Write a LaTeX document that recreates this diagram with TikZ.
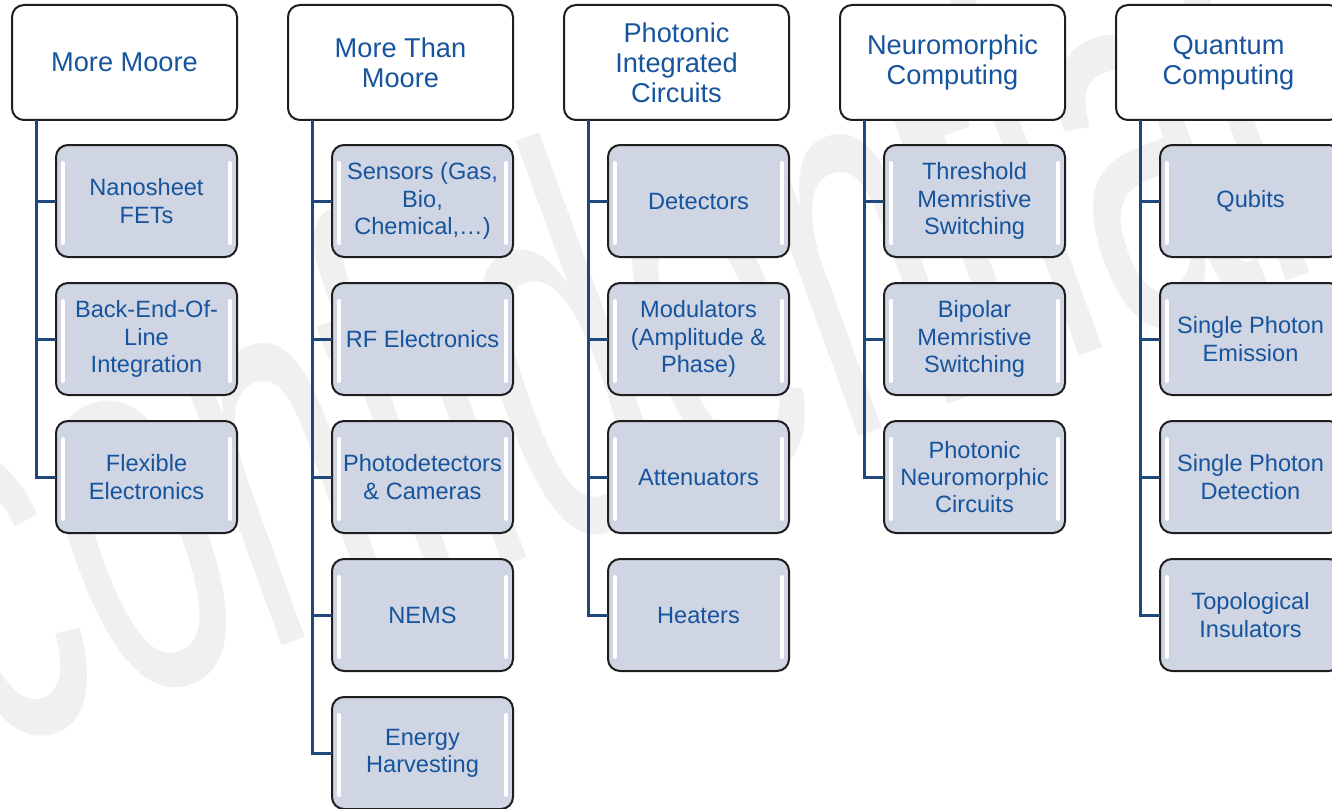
\documentclass[tikz,border=0pt]{standalone}
\usepackage{fontspec}
\setmainfont{Liberation Sans}
\usetikzlibrary{positioning}
\definecolor{txtblue}{RGB}{22,84,158}
\definecolor{linkblue}{RGB}{31,73,125}
\definecolor{leafgray}{RGB}{207,213,226}
\definecolor{boxline}{RGB}{30,30,30}

\tikzset{
  head/.style={draw=boxline, line width=1pt, rounded corners=6pt, fill=white,
    minimum width=112.5pt, minimum height=57.5pt, align=center, inner sep=1pt,
    outer sep=0pt, text=txtblue, font=\fontsize{13.6}{15}\selectfont},
  leaf/.style={draw=boxline, line width=1pt, rounded corners=6pt, fill=leafgray,
    minimum width=90.5pt, minimum height=56pt, align=center, inner sep=1pt,
    outer sep=0pt, text=txtblue, font=\fontsize{11.8}{13.6}\selectfont,
    path picture={
      \draw[white, line width=2pt, line cap=round]
        ([xshift=3.5pt,yshift=-9pt]path picture bounding box.north west) --
        ([xshift=3.5pt,yshift=7pt]path picture bounding box.south west)
        ([xshift=-3.5pt,yshift=-9pt]path picture bounding box.north east) --
        ([xshift=-3.5pt,yshift=7pt]path picture bounding box.south east);
    }},
  link/.style={draw=linkblue, line width=1.5pt},
  stamp/.style={text=black!6, font=\fontsize{272}{272}\selectfont, inner sep=0pt}
}

\begin{document}
\begin{tikzpicture}[x=0.5pt,y=0.5pt]
\useasboundingbox (0,0) rectangle (1332,-808);
\clip (0,0) rectangle (1332,-808);

% watermark behind everything
\node[stamp, rotate=20, xscale=0.52, anchor=base west] (wm) at (-17,-755) {confidential};

% column heads
\foreach \n/\x/\t in {h1/124.5/More Moore, h2/400.5/{More Than\\Moore},
    h3/676.5/{Photonic\\Integrated\\Circuits}, h4/952.5/{Neuromorphic\\Computing},
    h5/1228.5/{Quantum\\Computing}}
  \node[head] (\n) at (\x,-62.5) {\t};

% More Moore
\node[leaf, below left=12.5pt and 0pt of h1.south east] (c11) {Nanosheet\\FETs};
\node[leaf, below=13pt of c11] (c12) {Back-End-Of-\\Line\\Integration};
\node[leaf, below=13pt of c12] (c13) {Flexible\\Electronics};

% More Than Moore
\node[leaf, below left=12.5pt and 0pt of h2.south east] (c21) {Sensors (Gas,\\Bio,\\Chemical,…)};
\node[leaf, below=13pt of c21] (c22) {RF Electronics};
\node[leaf, below=13pt of c22] (c23) {Photodetectors\\\& Cameras};
\node[leaf, below=13pt of c23] (c24) {NEMS};
\node[leaf, below=13pt of c24] (c25) {Energy\\Harvesting};

% Photonic Integrated Circuits
\node[leaf, below left=12.5pt and 0pt of h3.south east] (c31) {Detectors};
\node[leaf, below=13pt of c31] (c32) {Modulators\\(Amplitude \&\\Phase)};
\node[leaf, below=13pt of c32] (c33) {Attenuators};
\node[leaf, below=13pt of c33] (c34) {Heaters};

% Neuromorphic Computing
\node[leaf, below left=12.5pt and 0pt of h4.south east] (c41) {Threshold\\Memristive\\Switching};
\node[leaf, below=13pt of c41] (c42) {Bipolar\\Memristive\\Switching};
\node[leaf, below=13pt of c42] (c43) {Photonic\\Neuromorphic\\Circuits};

% Quantum Computing
\node[leaf, below left=12.5pt and 0pt of h5.south east] (c51) {Qubits};
\node[leaf, below=13pt of c51] (c52) {Single Photon\\Emission};
\node[leaf, below=13pt of c52] (c53) {Single Photon\\Detection};
\node[leaf, below=13pt of c53] (c54) {Topological\\Insulators};

% trunks and branches
\foreach \h/\c in {h1/c11,h1/c12,h1/c13,
    h2/c21,h2/c22,h2/c23,h2/c24,h2/c25,
    h3/c31,h3/c32,h3/c33,h3/c34,
    h4/c41,h4/c42,h4/c43,
    h5/c51,h5/c52,h5/c53,h5/c54}
  \draw[link] ([xshift=12pt]\h.south west) |- (\c.west);
\end{tikzpicture}
\end{document}
